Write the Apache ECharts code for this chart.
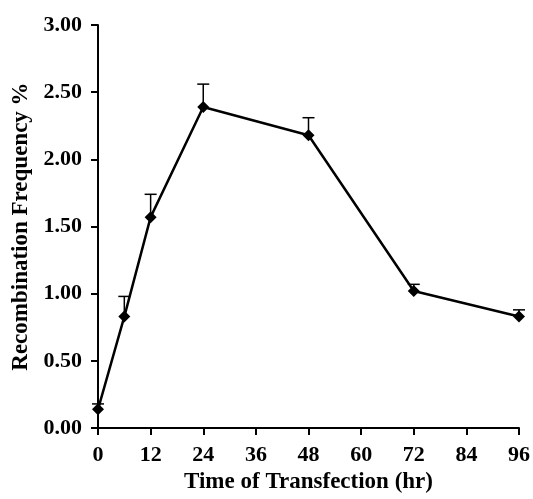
<!DOCTYPE html>
<html>
<head>
<meta charset="utf-8">
<script src="https://cdn.jsdelivr.net/npm/echarts@6/dist/echarts.min.js"></script>
<style>
  html, body { margin: 0; padding: 0; background: #fff; }
  #chart { width: 533px; height: 499px; }
</style>
</head>
<body>
<div id="chart"></div>
<script>
// hours after transfection
var hours = [0, 6, 12, 24, 48, 72, 96];
// recombination frequency (%)
var freq = [0.14, 0.83, 1.57, 2.39, 2.18, 1.02, 0.83];
// top of error bar
var errTop = [0.18, 0.98, 1.74, 2.56, 2.31, 1.07, 0.88];

var xTicks = [0, 12, 24, 36, 48, 60, 72, 84, 96];

var font = '"Liberation Serif", "Times New Roman", serif';

var lineData = [], errData = [];
for (var i = 0; i < hours.length; i++) {
  lineData.push([hours[i], freq[i]]);
  errData.push([hours[i], freq[i], errTop[i]]);
}

var chart = echarts.init(document.getElementById('chart'));

chart.setOption({
  backgroundColor: '#ffffff',
  animation: false,
  grid: { left: 98, right: 9, top: 25, bottom: 70 },
  xAxis: {
    type: 'value',
    min: 0, max: 96, interval: 12,
    name: 'Time of Transfection (hr)',
    nameLocation: 'middle',
    nameGap: 41,
    nameTextStyle: { fontFamily: font, fontWeight: 'bold', fontSize: 23, color: '#000' },
    axisLine: { lineStyle: { color: '#000', width: 2 } },
    axisTick: { inside: false, length: 7, lineStyle: { color: '#000', width: 2 } },
    axisLabel: { margin: 16, fontFamily: font, fontWeight: 'bold', fontSize: 22, color: '#000' },
    splitLine: { show: false }
  },
  yAxis: {
    type: 'value',
    min: 0, max: 3, interval: 0.5,
    name: 'Recombination Frequency %',
    nameLocation: 'middle',
    nameGap: 64,
    nameTextStyle: { fontFamily: font, fontWeight: 'bold', fontSize: 23, color: '#000' },
    axisLine: { show: true, lineStyle: { color: '#000', width: 2 } },
    axisTick: { show: true, inside: false, length: 7, lineStyle: { color: '#000', width: 2 } },
    axisLabel: {
      margin: 16, fontFamily: font, fontWeight: 'bold', fontSize: 22, color: '#000',
      formatter: function (v) { return v.toFixed(2); }
    },
    splitLine: { show: false }
  },
  series: [
    {
      // upper error bars
      type: 'custom',
      data: errData,
      z: 1,
      renderItem: function (params, api) {
        var p0 = api.coord([api.value(0), api.value(1)]);
        var p1 = api.coord([api.value(0), api.value(2)]);
        var w = 6;
        var st = { stroke: '#000', lineWidth: 1.5 };
        return {
          type: 'group',
          children: [
            { type: 'line', shape: { x1: p0[0], y1: p0[1], x2: p1[0], y2: p1[1] }, style: st },
            { type: 'line', shape: { x1: p1[0] - w, y1: p1[1], x2: p1[0] + w, y2: p1[1] }, style: st }
          ]
        };
      }
    },
    {
      type: 'line',
      data: lineData,
      z: 2,
      symbol: 'diamond',
      symbolSize: 12,
      lineStyle: { color: '#000', width: 2.5 },
      itemStyle: { color: '#000' }
    }
  ]
});
</script>
</body>
</html>
